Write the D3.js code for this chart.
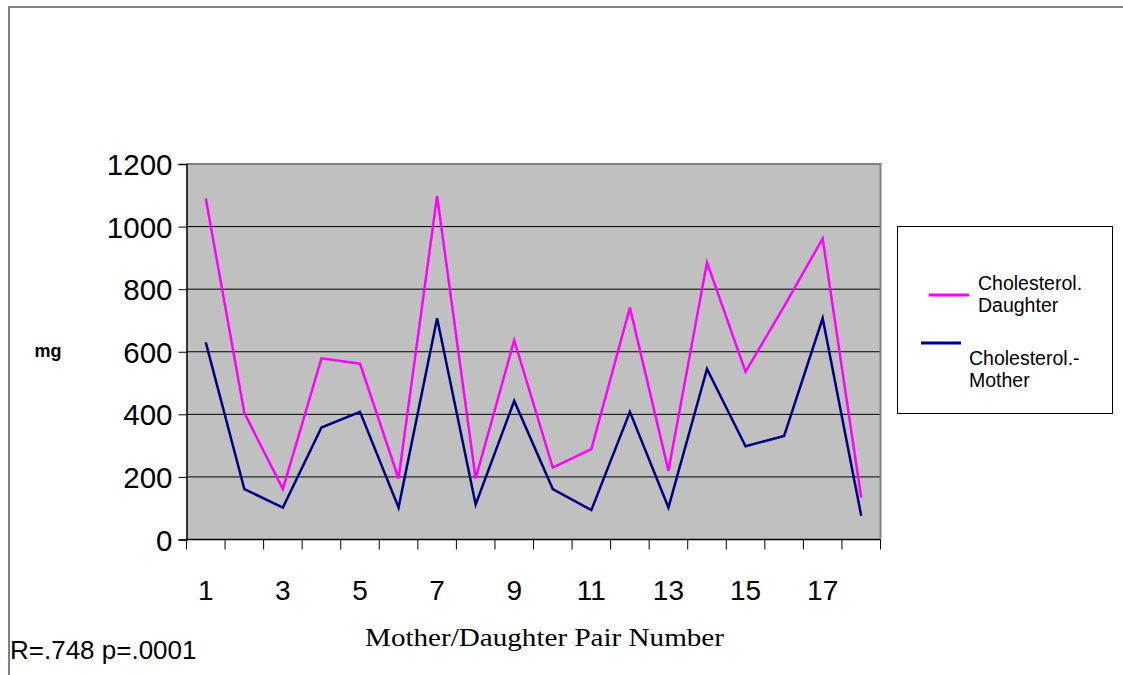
<!DOCTYPE html>
<html>
<head>
<meta charset="utf-8">
<script src="https://cdn.jsdelivr.net/npm/d3@7"></script>
<style>
  html, body { margin: 0; padding: 0; background: #fff; }
  svg { display: block; }
</style>
</head>
<body>
<svg id="chart" width="1123" height="675"></svg>
<script>
const categories = ["1","2","3","4","5","6","7","8","9","10","11","12","13","14","15","16","17","18"];
const xTickLabels = ["1","3","5","7","9","11","13","15","17"];
const yTicks = [0, 200, 400, 600, 800, 1000, 1200];
const daughter = [1090, 405, 161, 579, 562, 195, 1098, 195, 637, 230, 289, 741, 220, 886, 536, 745, 962, 134];
const mother = [630, 161, 102, 358, 408, 102, 707, 112, 443, 161, 94, 408, 102, 545, 298, 331, 707, 76];
const seriesNames = ["Cholesterol.\nDaughter", "Cholesterol.-\nMother"];
const seriesColors = ["#ff00ff", "#000080"];

const svg = d3.select("#chart");
const L = 186.5, R = 880.5, T = 164, B = 539.5;

// outer frame
svg.append("rect").attr("x", 9).attr("y", 7).attr("width", 1200).attr("height", 700)
  .attr("fill", "none").attr("stroke", "#808080").attr("stroke-width", 2);

const x = d3.scaleBand().domain(categories).range([L, R]).padding(0);
const y = d3.scaleLinear().domain([0, 1200]).range([B, T]);

// plot area
svg.append("rect").attr("x", L).attr("y", T).attr("width", R - L).attr("height", B - T)
  .attr("fill", "#c0c0c0");

// gridlines
svg.append("g").selectAll("line").data(yTicks.filter(d => d > 0 && d < 1200)).join("line")
  .attr("x1", L).attr("x2", R).attr("y1", d => y(d)).attr("y2", d => y(d))
  .attr("stroke", "#000").attr("stroke-width", 1);

// plot border top/right
svg.append("path").attr("d", `M${L},${T}H${R}V${B}`).attr("fill", "none")
  .attr("stroke", "#808080").attr("stroke-width", 2);

// y axis
const yAxis = d3.axisLeft(y).tickValues(yTicks).tickSize(8).tickPadding(6).tickFormat(d3.format("d"));
const gy = svg.append("g").attr("transform", `translate(${L},0)`).call(yAxis);
gy.select(".domain").attr("stroke", "#000").attr("stroke-width", 1.5);
gy.selectAll(".tick line").attr("stroke", "#000");
gy.selectAll(".tick text").attr("font-family", "Liberation Sans, Arial, sans-serif")
  .attr("font-size", 29.5).attr("fill", "#000").attr("dy", "0.36em");

// x axis baseline and ticks at band boundaries
const bounds = categories.map(c => x(c)).concat([x(categories[categories.length - 1]) + x.bandwidth()]);
svg.append("line").attr("x1", L).attr("x2", R).attr("y1", B).attr("y2", B)
  .attr("stroke", "#000").attr("stroke-width", 1.5);
svg.append("g").selectAll("line").data(bounds).join("line")
  .attr("x1", d => d).attr("x2", d => d).attr("y1", B).attr("y2", B + 10)
  .attr("stroke", "#000").attr("stroke-width", 1);
svg.append("g").selectAll("text").data(xTickLabels).join("text")
  .attr("x", d => x(d) + x.bandwidth() / 2).attr("y", 600)
  .attr("text-anchor", "middle").attr("font-family", "Liberation Sans, Arial, sans-serif")
  .attr("font-size", 28).attr("fill", "#000").text(d => d);

// lines
const line = d3.line().x((d, i) => x(categories[i]) + x.bandwidth() / 2).y(d => y(d));
[daughter, mother].forEach((s, k) => {
  svg.append("path").datum(s).attr("d", line).attr("fill", "none")
    .attr("stroke", seriesColors[k]).attr("stroke-width", 2.5).attr("stroke-linejoin", "miter");
});

// axis labels
svg.append("text").attr("x", 48).attr("y", 357).attr("text-anchor", "middle")
  .attr("font-family", "Liberation Sans, Arial, sans-serif").attr("font-weight", "bold")
  .attr("font-size", 18).text("mg");
svg.append("text").attr("x", 544.5).attr("y", 646).attr("text-anchor", "middle")
  .attr("font-family", "Liberation Serif, Times New Roman, serif")
  .attr("font-size", 25).attr("textLength", 359).attr("lengthAdjust", "spacingAndGlyphs")
  .text("Mother/Daughter Pair Number");
svg.append("text").attr("x", 10).attr("y", 659)
  .attr("font-family", "Liberation Sans, Arial, sans-serif")
  .attr("font-size", 26).text("R=.748 p=.0001");

// legend
const lg = svg.append("g");
lg.append("rect").attr("x", 897.5).attr("y", 226.5).attr("width", 215).attr("height", 187)
  .attr("fill", "#fff").attr("stroke", "#000").attr("stroke-width", 1);
const legendPos = [{lx1: 929, lx2: 969, ly: 295, tx: 978, ty: 290}, {lx1: 921, lx2: 961, ly: 343, tx: 969, ty: 365}];
seriesNames.forEach((name, k) => {
  const p = legendPos[k];
  lg.append("line").attr("x1", p.lx1).attr("x2", p.lx2).attr("y1", p.ly).attr("y2", p.ly)
    .attr("stroke", seriesColors[k]).attr("stroke-width", 3);
  const t = lg.append("text").attr("font-family", "Liberation Sans, Arial, sans-serif")
    .attr("font-size", 19.5).attr("fill", "#000");
  name.split("\n").forEach((ln, j) => {
    t.append("tspan").attr("x", p.tx).attr("y", p.ty + j * 21.7).text(ln);
  });
});
</script>
</body>
</html>
